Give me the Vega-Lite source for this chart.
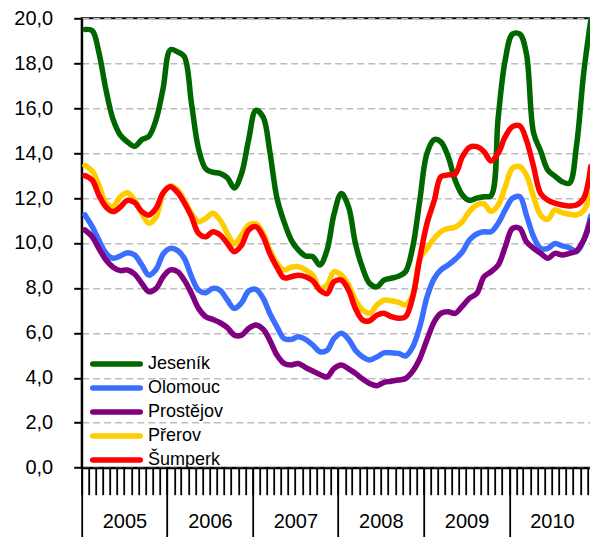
{
"$schema":"https://vega.github.io/schema/vega-lite/v6.json",
"autosize":{"type":"none"},
"padding":{"left":81.7,"top":18.3,"right":0,"bottom":70},
"width":513,"height":449.4,
"background":"#ffffff",
"title":{"text":["Míra nezaměstnanosti v okresech","Olomouckého kraje (v %)"],"font":"Liberation Sans","fontSize":19,"fontWeight":"bold","color":"#000","baseline":"bottom","offset":0,"dx":-32,"anchor":"middle"},
"config":{"view":{"stroke":"#000","strokeWidth":2},"font":"Liberation Sans"},
"datasets":{"nezam":[
{"mesic":"2005-01-15","okres":"Jeseník","mira":19.5},{"mesic":"2005-02-15","okres":"Jeseník","mira":19.45},{"mesic":"2005-03-15","okres":"Jeseník","mira":18.5},{"mesic":"2005-04-15","okres":"Jeseník","mira":16.8},{"mesic":"2005-05-15","okres":"Jeseník","mira":15.5},{"mesic":"2005-06-15","okres":"Jeseník","mira":14.8},{"mesic":"2005-07-15","okres":"Jeseník","mira":14.5},{"mesic":"2005-08-15","okres":"Jeseník","mira":14.3},{"mesic":"2005-09-15","okres":"Jeseník","mira":14.6},{"mesic":"2005-10-15","okres":"Jeseník","mira":14.75},{"mesic":"2005-11-15","okres":"Jeseník","mira":15.5},{"mesic":"2005-12-15","okres":"Jeseník","mira":16.9},
{"mesic":"2006-01-15","okres":"Jeseník","mira":18.6},{"mesic":"2006-02-15","okres":"Jeseník","mira":18.5},{"mesic":"2006-03-15","okres":"Jeseník","mira":18.3},{"mesic":"2006-04-15","okres":"Jeseník","mira":16.2},{"mesic":"2006-05-15","okres":"Jeseník","mira":14.2},{"mesic":"2006-06-15","okres":"Jeseník","mira":13.3},{"mesic":"2006-07-15","okres":"Jeseník","mira":13.15},{"mesic":"2006-08-15","okres":"Jeseník","mira":13.1},{"mesic":"2006-09-15","okres":"Jeseník","mira":12.9},{"mesic":"2006-10-15","okres":"Jeseník","mira":12.45},{"mesic":"2006-11-15","okres":"Jeseník","mira":13.1},{"mesic":"2006-12-15","okres":"Jeseník","mira":14.6},
{"mesic":"2007-01-15","okres":"Jeseník","mira":15.9},{"mesic":"2007-02-15","okres":"Jeseník","mira":15.6},{"mesic":"2007-03-15","okres":"Jeseník","mira":14.1},{"mesic":"2007-04-15","okres":"Jeseník","mira":12.0},{"mesic":"2007-05-15","okres":"Jeseník","mira":10.95},{"mesic":"2007-06-15","okres":"Jeseník","mira":10.13},{"mesic":"2007-07-15","okres":"Jeseník","mira":9.69},{"mesic":"2007-08-15","okres":"Jeseník","mira":9.42},{"mesic":"2007-09-15","okres":"Jeseník","mira":9.39},{"mesic":"2007-10-15","okres":"Jeseník","mira":9.02},{"mesic":"2007-11-15","okres":"Jeseník","mira":9.69},{"mesic":"2007-12-15","okres":"Jeseník","mira":11.3},
{"mesic":"2008-01-15","okres":"Jeseník","mira":12.2},{"mesic":"2008-02-15","okres":"Jeseník","mira":11.6},{"mesic":"2008-03-15","okres":"Jeseník","mira":9.98},{"mesic":"2008-04-15","okres":"Jeseník","mira":8.88},{"mesic":"2008-05-15","okres":"Jeseník","mira":8.2},{"mesic":"2008-06-15","okres":"Jeseník","mira":8.05},{"mesic":"2008-07-15","okres":"Jeseník","mira":8.35},{"mesic":"2008-08-15","okres":"Jeseník","mira":8.43},{"mesic":"2008-09-15","okres":"Jeseník","mira":8.52},{"mesic":"2008-10-15","okres":"Jeseník","mira":8.72},{"mesic":"2008-11-15","okres":"Jeseník","mira":9.83},{"mesic":"2008-12-15","okres":"Jeseník","mira":11.9},
{"mesic":"2009-01-15","okres":"Jeseník","mira":14.0},{"mesic":"2009-02-15","okres":"Jeseník","mira":14.6},{"mesic":"2009-03-15","okres":"Jeseník","mira":14.5},{"mesic":"2009-04-15","okres":"Jeseník","mira":13.85},{"mesic":"2009-05-15","okres":"Jeseník","mira":12.8},{"mesic":"2009-06-15","okres":"Jeseník","mira":12.14},{"mesic":"2009-07-15","okres":"Jeseník","mira":11.9},{"mesic":"2009-08-15","okres":"Jeseník","mira":12.0},{"mesic":"2009-09-15","okres":"Jeseník","mira":12.06},{"mesic":"2009-10-15","okres":"Jeseník","mira":12.1},{"mesic":"2009-11-15","okres":"Jeseník","mira":15.6},{"mesic":"2009-12-15","okres":"Jeseník","mira":18.15},
{"mesic":"2010-01-15","okres":"Jeseník","mira":19.3},{"mesic":"2010-02-15","okres":"Jeseník","mira":19.3},{"mesic":"2010-03-15","okres":"Jeseník","mira":18.45},{"mesic":"2010-04-15","okres":"Jeseník","mira":14.9},{"mesic":"2010-05-15","okres":"Jeseník","mira":14.1},{"mesic":"2010-06-15","okres":"Jeseník","mira":13.24},{"mesic":"2010-07-15","okres":"Jeseník","mira":12.98},{"mesic":"2010-08-15","okres":"Jeseník","mira":12.73},{"mesic":"2010-09-15","okres":"Jeseník","mira":12.66},{"mesic":"2010-10-15","okres":"Jeseník","mira":14.3},{"mesic":"2010-11-15","okres":"Jeseník","mira":17.56},{"mesic":"2010-12-15","okres":"Jeseník","mira":19.9},

{"mesic":"2005-01-15","okres":"Olomouc","mira":11.25},{"mesic":"2005-02-15","okres":"Olomouc","mira":10.73},{"mesic":"2005-03-15","okres":"Olomouc","mira":10.13},{"mesic":"2005-04-15","okres":"Olomouc","mira":9.54},{"mesic":"2005-05-15","okres":"Olomouc","mira":9.32},{"mesic":"2005-06-15","okres":"Olomouc","mira":9.42},{"mesic":"2005-07-15","okres":"Olomouc","mira":9.57},{"mesic":"2005-08-15","okres":"Olomouc","mira":9.47},{"mesic":"2005-09-15","okres":"Olomouc","mira":9.02},{"mesic":"2005-10-15","okres":"Olomouc","mira":8.57},{"mesic":"2005-11-15","okres":"Olomouc","mira":8.83},{"mesic":"2005-12-15","okres":"Olomouc","mira":9.51},
{"mesic":"2006-01-15","okres":"Olomouc","mira":9.76},{"mesic":"2006-02-15","okres":"Olomouc","mira":9.66},{"mesic":"2006-03-15","okres":"Olomouc","mira":9.32},{"mesic":"2006-04-15","okres":"Olomouc","mira":8.5},{"mesic":"2006-05-15","okres":"Olomouc","mira":7.9},{"mesic":"2006-06-15","okres":"Olomouc","mira":7.79},{"mesic":"2006-07-15","okres":"Olomouc","mira":7.98},{"mesic":"2006-08-15","okres":"Olomouc","mira":7.9},{"mesic":"2006-09-15","okres":"Olomouc","mira":7.46},{"mesic":"2006-10-15","okres":"Olomouc","mira":7.09},{"mesic":"2006-11-15","okres":"Olomouc","mira":7.34},{"mesic":"2006-12-15","okres":"Olomouc","mira":7.86},
{"mesic":"2007-01-15","okres":"Olomouc","mira":7.94},{"mesic":"2007-02-15","okres":"Olomouc","mira":7.54},{"mesic":"2007-03-15","okres":"Olomouc","mira":6.87},{"mesic":"2007-04-15","okres":"Olomouc","mira":6.27},{"mesic":"2007-05-15","okres":"Olomouc","mira":5.75},{"mesic":"2007-06-15","okres":"Olomouc","mira":5.71},{"mesic":"2007-07-15","okres":"Olomouc","mira":5.83},{"mesic":"2007-08-15","okres":"Olomouc","mira":5.71},{"mesic":"2007-09-15","okres":"Olomouc","mira":5.46},{"mesic":"2007-10-15","okres":"Olomouc","mira":5.16},{"mesic":"2007-11-15","okres":"Olomouc","mira":5.23},{"mesic":"2007-12-15","okres":"Olomouc","mira":5.75},
{"mesic":"2008-01-15","okres":"Olomouc","mira":5.98},{"mesic":"2008-02-15","okres":"Olomouc","mira":5.71},{"mesic":"2008-03-15","okres":"Olomouc","mira":5.23},{"mesic":"2008-04-15","okres":"Olomouc","mira":4.93},{"mesic":"2008-05-15","okres":"Olomouc","mira":4.79},{"mesic":"2008-06-15","okres":"Olomouc","mira":4.93},{"mesic":"2008-07-15","okres":"Olomouc","mira":5.11},{"mesic":"2008-08-15","okres":"Olomouc","mira":5.11},{"mesic":"2008-09-15","okres":"Olomouc","mira":5.09},{"mesic":"2008-10-15","okres":"Olomouc","mira":4.97},{"mesic":"2008-11-15","okres":"Olomouc","mira":5.38},{"mesic":"2008-12-15","okres":"Olomouc","mira":6.27},
{"mesic":"2009-01-15","okres":"Olomouc","mira":7.6},{"mesic":"2009-02-15","okres":"Olomouc","mira":8.43},{"mesic":"2009-03-15","okres":"Olomouc","mira":8.8},{"mesic":"2009-04-15","okres":"Olomouc","mira":9.02},{"mesic":"2009-05-15","okres":"Olomouc","mira":9.27},{"mesic":"2009-06-15","okres":"Olomouc","mira":9.61},{"mesic":"2009-07-15","okres":"Olomouc","mira":10.13},{"mesic":"2009-08-15","okres":"Olomouc","mira":10.4},{"mesic":"2009-09-15","okres":"Olomouc","mira":10.5},{"mesic":"2009-10-15","okres":"Olomouc","mira":10.5},{"mesic":"2009-11-15","okres":"Olomouc","mira":10.88},{"mesic":"2009-12-15","okres":"Olomouc","mira":11.47},
{"mesic":"2010-01-15","okres":"Olomouc","mira":11.99},{"mesic":"2010-02-15","okres":"Olomouc","mira":12.06},{"mesic":"2010-03-15","okres":"Olomouc","mira":11.25},{"mesic":"2010-04-15","okres":"Olomouc","mira":10.28},{"mesic":"2010-05-15","okres":"Olomouc","mira":9.76},{"mesic":"2010-06-15","okres":"Olomouc","mira":9.76},{"mesic":"2010-07-15","okres":"Olomouc","mira":9.98},{"mesic":"2010-08-15","okres":"Olomouc","mira":9.87},{"mesic":"2010-09-15","okres":"Olomouc","mira":9.79},{"mesic":"2010-10-15","okres":"Olomouc","mira":9.61},{"mesic":"2010-11-15","okres":"Olomouc","mira":10.13},{"mesic":"2010-12-15","okres":"Olomouc","mira":11.2},

{"mesic":"2005-01-15","okres":"Prostějov","mira":10.58},{"mesic":"2005-02-15","okres":"Prostějov","mira":10.28},{"mesic":"2005-03-15","okres":"Prostějov","mira":9.76},{"mesic":"2005-04-15","okres":"Prostějov","mira":9.24},{"mesic":"2005-05-15","okres":"Prostějov","mira":8.92},{"mesic":"2005-06-15","okres":"Prostějov","mira":8.77},{"mesic":"2005-07-15","okres":"Prostějov","mira":8.8},{"mesic":"2005-08-15","okres":"Prostějov","mira":8.62},{"mesic":"2005-09-15","okres":"Prostějov","mira":8.2},{"mesic":"2005-10-15","okres":"Prostějov","mira":7.83},{"mesic":"2005-11-15","okres":"Prostějov","mira":7.98},{"mesic":"2005-12-15","okres":"Prostějov","mira":8.5},
{"mesic":"2006-01-15","okres":"Prostějov","mira":8.8},{"mesic":"2006-02-15","okres":"Prostějov","mira":8.72},{"mesic":"2006-03-15","okres":"Prostějov","mira":8.35},{"mesic":"2006-04-15","okres":"Prostějov","mira":7.75},{"mesic":"2006-05-15","okres":"Prostějov","mira":7.09},{"mesic":"2006-06-15","okres":"Prostějov","mira":6.72},{"mesic":"2006-07-15","okres":"Prostějov","mira":6.6},{"mesic":"2006-08-15","okres":"Prostějov","mira":6.45},{"mesic":"2006-09-15","okres":"Prostějov","mira":6.23},{"mesic":"2006-10-15","okres":"Prostějov","mira":5.9},{"mesic":"2006-11-15","okres":"Prostějov","mira":5.9},{"mesic":"2006-12-15","okres":"Prostějov","mira":6.2},
{"mesic":"2007-01-15","okres":"Prostějov","mira":6.35},{"mesic":"2007-02-15","okres":"Prostějov","mira":6.16},{"mesic":"2007-03-15","okres":"Prostějov","mira":5.68},{"mesic":"2007-04-15","okres":"Prostějov","mira":5.01},{"mesic":"2007-05-15","okres":"Prostějov","mira":4.64},{"mesic":"2007-06-15","okres":"Prostějov","mira":4.57},{"mesic":"2007-07-15","okres":"Prostějov","mira":4.64},{"mesic":"2007-08-15","okres":"Prostějov","mira":4.46},{"mesic":"2007-09-15","okres":"Prostějov","mira":4.3},{"mesic":"2007-10-15","okres":"Prostějov","mira":4.15},{"mesic":"2007-11-15","okres":"Prostějov","mira":4.04},{"mesic":"2007-12-15","okres":"Prostějov","mira":4.42},
{"mesic":"2008-01-15","okres":"Prostějov","mira":4.57},{"mesic":"2008-02-15","okres":"Prostějov","mira":4.4},{"mesic":"2008-03-15","okres":"Prostějov","mira":4.2},{"mesic":"2008-04-15","okres":"Prostějov","mira":3.95},{"mesic":"2008-05-15","okres":"Prostějov","mira":3.75},{"mesic":"2008-06-15","okres":"Prostějov","mira":3.65},{"mesic":"2008-07-15","okres":"Prostějov","mira":3.8},{"mesic":"2008-08-15","okres":"Prostějov","mira":3.85},{"mesic":"2008-09-15","okres":"Prostějov","mira":3.9},{"mesic":"2008-10-15","okres":"Prostějov","mira":3.97},{"mesic":"2008-11-15","okres":"Prostějov","mira":4.3},{"mesic":"2008-12-15","okres":"Prostějov","mira":4.85},
{"mesic":"2009-01-15","okres":"Prostějov","mira":5.7},{"mesic":"2009-02-15","okres":"Prostějov","mira":6.5},{"mesic":"2009-03-15","okres":"Prostějov","mira":6.87},{"mesic":"2009-04-15","okres":"Prostějov","mira":6.94},{"mesic":"2009-05-15","okres":"Prostějov","mira":6.87},{"mesic":"2009-06-15","okres":"Prostějov","mira":7.19},{"mesic":"2009-07-15","okres":"Prostějov","mira":7.54},{"mesic":"2009-08-15","okres":"Prostějov","mira":7.75},{"mesic":"2009-09-15","okres":"Prostějov","mira":8.5},{"mesic":"2009-10-15","okres":"Prostějov","mira":8.72},{"mesic":"2009-11-15","okres":"Prostějov","mira":9.02},{"mesic":"2009-12-15","okres":"Prostějov","mira":9.83},
{"mesic":"2010-01-15","okres":"Prostějov","mira":10.65},{"mesic":"2010-02-15","okres":"Prostějov","mira":10.65},{"mesic":"2010-03-15","okres":"Prostějov","mira":10.06},{"mesic":"2010-04-15","okres":"Prostějov","mira":9.76},{"mesic":"2010-05-15","okres":"Prostějov","mira":9.54},{"mesic":"2010-06-15","okres":"Prostějov","mira":9.32},{"mesic":"2010-07-15","okres":"Prostějov","mira":9.54},{"mesic":"2010-08-15","okres":"Prostějov","mira":9.47},{"mesic":"2010-09-15","okres":"Prostějov","mira":9.54},{"mesic":"2010-10-15","okres":"Prostějov","mira":9.64},{"mesic":"2010-11-15","okres":"Prostějov","mira":10.13},{"mesic":"2010-12-15","okres":"Prostějov","mira":11.0},

{"mesic":"2005-01-15","okres":"Přerov","mira":13.45},{"mesic":"2005-02-15","okres":"Přerov","mira":13.2},{"mesic":"2005-03-15","okres":"Přerov","mira":12.58},{"mesic":"2005-04-15","okres":"Přerov","mira":11.77},{"mesic":"2005-05-15","okres":"Přerov","mira":11.62},{"mesic":"2005-06-15","okres":"Přerov","mira":12.06},{"mesic":"2005-07-15","okres":"Přerov","mira":12.24},{"mesic":"2005-08-15","okres":"Přerov","mira":11.9},{"mesic":"2005-09-15","okres":"Přerov","mira":11.32},{"mesic":"2005-10-15","okres":"Přerov","mira":10.88},{"mesic":"2005-11-15","okres":"Přerov","mira":11.17},{"mesic":"2005-12-15","okres":"Přerov","mira":12.21},
{"mesic":"2006-01-15","okres":"Přerov","mira":12.54},{"mesic":"2006-02-15","okres":"Přerov","mira":12.36},{"mesic":"2006-03-15","okres":"Přerov","mira":11.9},{"mesic":"2006-04-15","okres":"Přerov","mira":11.32},{"mesic":"2006-05-15","okres":"Přerov","mira":10.95},{"mesic":"2006-06-15","okres":"Přerov","mira":11.1},{"mesic":"2006-07-15","okres":"Přerov","mira":11.32},{"mesic":"2006-08-15","okres":"Přerov","mira":11.02},{"mesic":"2006-09-15","okres":"Přerov","mira":10.43},{"mesic":"2006-10-15","okres":"Přerov","mira":9.95},{"mesic":"2006-11-15","okres":"Přerov","mira":10.36},{"mesic":"2006-12-15","okres":"Přerov","mira":10.8},
{"mesic":"2007-01-15","okres":"Přerov","mira":10.85},{"mesic":"2007-02-15","okres":"Přerov","mira":10.43},{"mesic":"2007-03-15","okres":"Přerov","mira":9.69},{"mesic":"2007-04-15","okres":"Přerov","mira":9.1},{"mesic":"2007-05-15","okres":"Přerov","mira":8.8},{"mesic":"2007-06-15","okres":"Přerov","mira":8.92},{"mesic":"2007-07-15","okres":"Přerov","mira":8.95},{"mesic":"2007-08-15","okres":"Přerov","mira":8.8},{"mesic":"2007-09-15","okres":"Přerov","mira":8.57},{"mesic":"2007-10-15","okres":"Přerov","mira":7.98},{"mesic":"2007-11-15","okres":"Přerov","mira":8.13},{"mesic":"2007-12-15","okres":"Přerov","mira":8.72},
{"mesic":"2008-01-15","okres":"Přerov","mira":8.57},{"mesic":"2008-02-15","okres":"Přerov","mira":8.13},{"mesic":"2008-03-15","okres":"Přerov","mira":7.46},{"mesic":"2008-04-15","okres":"Přerov","mira":7.02},{"mesic":"2008-05-15","okres":"Přerov","mira":6.87},{"mesic":"2008-06-15","okres":"Přerov","mira":7.24},{"mesic":"2008-07-15","okres":"Přerov","mira":7.46},{"mesic":"2008-08-15","okres":"Přerov","mira":7.43},{"mesic":"2008-09-15","okres":"Přerov","mira":7.36},{"mesic":"2008-10-15","okres":"Přerov","mira":7.24},{"mesic":"2008-11-15","okres":"Přerov","mira":7.7},{"mesic":"2008-12-15","okres":"Přerov","mira":9.3},
{"mesic":"2009-01-15","okres":"Přerov","mira":9.76},{"mesic":"2009-02-15","okres":"Přerov","mira":10.21},{"mesic":"2009-03-15","okres":"Přerov","mira":10.5},{"mesic":"2009-04-15","okres":"Přerov","mira":10.65},{"mesic":"2009-05-15","okres":"Přerov","mira":10.7},{"mesic":"2009-06-15","okres":"Přerov","mira":10.95},{"mesic":"2009-07-15","okres":"Přerov","mira":11.4},{"mesic":"2009-08-15","okres":"Přerov","mira":11.69},{"mesic":"2009-09-15","okres":"Přerov","mira":11.74},{"mesic":"2009-10-15","okres":"Přerov","mira":11.4},{"mesic":"2009-11-15","okres":"Přerov","mira":11.69},{"mesic":"2009-12-15","okres":"Přerov","mira":12.5},
{"mesic":"2010-01-15","okres":"Přerov","mira":13.33},{"mesic":"2010-02-15","okres":"Přerov","mira":13.4},{"mesic":"2010-03-15","okres":"Přerov","mira":13.03},{"mesic":"2010-04-15","okres":"Přerov","mira":12.06},{"mesic":"2010-05-15","okres":"Přerov","mira":11.25},{"mesic":"2010-06-15","okres":"Přerov","mira":11.05},{"mesic":"2010-07-15","okres":"Přerov","mira":11.47},{"mesic":"2010-08-15","okres":"Přerov","mira":11.35},{"mesic":"2010-09-15","okres":"Přerov","mira":11.28},{"mesic":"2010-10-15","okres":"Přerov","mira":11.25},{"mesic":"2010-11-15","okres":"Přerov","mira":11.44},{"mesic":"2010-12-15","okres":"Přerov","mira":12.2},

{"mesic":"2005-01-15","okres":"Šumperk","mira":13.0},{"mesic":"2005-02-15","okres":"Šumperk","mira":12.8},{"mesic":"2005-03-15","okres":"Šumperk","mira":12.14},{"mesic":"2005-04-15","okres":"Šumperk","mira":11.6},{"mesic":"2005-05-15","okres":"Šumperk","mira":11.4},{"mesic":"2005-06-15","okres":"Šumperk","mira":11.6},{"mesic":"2005-07-15","okres":"Šumperk","mira":11.9},{"mesic":"2005-08-15","okres":"Šumperk","mira":11.8},{"mesic":"2005-09-15","okres":"Šumperk","mira":11.4},{"mesic":"2005-10-15","okres":"Šumperk","mira":11.25},{"mesic":"2005-11-15","okres":"Šumperk","mira":11.55},{"mesic":"2005-12-15","okres":"Šumperk","mira":12.24},
{"mesic":"2006-01-15","okres":"Šumperk","mira":12.5},{"mesic":"2006-02-15","okres":"Šumperk","mira":12.24},{"mesic":"2006-03-15","okres":"Šumperk","mira":11.8},{"mesic":"2006-04-15","okres":"Šumperk","mira":11.17},{"mesic":"2006-05-15","okres":"Šumperk","mira":10.43},{"mesic":"2006-06-15","okres":"Šumperk","mira":10.28},{"mesic":"2006-07-15","okres":"Šumperk","mira":10.5},{"mesic":"2006-08-15","okres":"Šumperk","mira":10.36},{"mesic":"2006-09-15","okres":"Šumperk","mira":9.98},{"mesic":"2006-10-15","okres":"Šumperk","mira":9.61},{"mesic":"2006-11-15","okres":"Šumperk","mira":9.9},{"mesic":"2006-12-15","okres":"Šumperk","mira":10.58},
{"mesic":"2007-01-15","okres":"Šumperk","mira":10.73},{"mesic":"2007-02-15","okres":"Šumperk","mira":10.28},{"mesic":"2007-03-15","okres":"Šumperk","mira":9.54},{"mesic":"2007-04-15","okres":"Šumperk","mira":8.92},{"mesic":"2007-05-15","okres":"Šumperk","mira":8.45},{"mesic":"2007-06-15","okres":"Šumperk","mira":8.5},{"mesic":"2007-07-15","okres":"Šumperk","mira":8.57},{"mesic":"2007-08-15","okres":"Šumperk","mira":8.5},{"mesic":"2007-09-15","okres":"Šumperk","mira":8.32},{"mesic":"2007-10-15","okres":"Šumperk","mira":7.9},{"mesic":"2007-11-15","okres":"Šumperk","mira":7.75},{"mesic":"2007-12-15","okres":"Šumperk","mira":8.28},
{"mesic":"2008-01-15","okres":"Šumperk","mira":8.35},{"mesic":"2008-02-15","okres":"Šumperk","mira":7.9},{"mesic":"2008-03-15","okres":"Šumperk","mira":7.09},{"mesic":"2008-04-15","okres":"Šumperk","mira":6.57},{"mesic":"2008-05-15","okres":"Šumperk","mira":6.54},{"mesic":"2008-06-15","okres":"Šumperk","mira":6.79},{"mesic":"2008-07-15","okres":"Šumperk","mira":6.87},{"mesic":"2008-08-15","okres":"Šumperk","mira":6.72},{"mesic":"2008-09-15","okres":"Šumperk","mira":6.65},{"mesic":"2008-10-15","okres":"Šumperk","mira":6.72},{"mesic":"2008-11-15","okres":"Šumperk","mira":7.6},{"mesic":"2008-12-15","okres":"Šumperk","mira":9.32},
{"mesic":"2009-01-15","okres":"Šumperk","mira":10.88},{"mesic":"2009-02-15","okres":"Šumperk","mira":11.9},{"mesic":"2009-03-15","okres":"Šumperk","mira":12.95},{"mesic":"2009-04-15","okres":"Šumperk","mira":13.03},{"mesic":"2009-05-15","okres":"Šumperk","mira":13.07},{"mesic":"2009-06-15","okres":"Šumperk","mira":13.84},{"mesic":"2009-07-15","okres":"Šumperk","mira":14.26},{"mesic":"2009-08-15","okres":"Šumperk","mira":14.29},{"mesic":"2009-09-15","okres":"Šumperk","mira":14.07},{"mesic":"2009-10-15","okres":"Šumperk","mira":13.65},{"mesic":"2009-11-15","okres":"Šumperk","mira":14.0},{"mesic":"2009-12-15","okres":"Šumperk","mira":14.73},
{"mesic":"2010-01-15","okres":"Šumperk","mira":15.18},{"mesic":"2010-02-15","okres":"Šumperk","mira":15.21},{"mesic":"2010-03-15","okres":"Šumperk","mira":14.59},{"mesic":"2010-04-15","okres":"Šumperk","mira":13.4},{"mesic":"2010-05-15","okres":"Šumperk","mira":12.21},{"mesic":"2010-06-15","okres":"Šumperk","mira":11.9},{"mesic":"2010-07-15","okres":"Šumperk","mira":11.77},{"mesic":"2010-08-15","okres":"Šumperk","mira":11.69},{"mesic":"2010-09-15","okres":"Šumperk","mira":11.65},{"mesic":"2010-10-15","okres":"Šumperk","mira":11.69},{"mesic":"2010-11-15","okres":"Šumperk","mira":11.99},{"mesic":"2010-12-15","okres":"Šumperk","mira":13.4}
]},
"data":{"name":"nezam"},
"resolve":{"axis":{"x":"independent"}},
"layer":[
{
"mark":{"type":"line","interpolate":"catmull-rom","strokeWidth":5.5,"strokeCap":"round","strokeJoin":"round"},
"encoding":{
"x":{"field":"mesic","type":"temporal","title":null,
"scale":{"type":"utc","domain":[{"year":2005,"month":1,"date":1,"utc":true},{"year":2011,"month":1,"date":1,"utc":true}]},
"axis":{"orient":"bottom","tickCount":{"interval":"month","step":1},"grid":false,"domain":true,"domainColor":"#000","domainWidth":2,"ticks":true,"tickColor":"#000","tickWidth":1.8,"tickSize":27,"labels":false}},
"y":{"field":"mira","type":"quantitative","title":null,
"scale":{"domain":[0,20],"nice":false,"zero":true},
"axis":{"values":[0,2,4,6,8,10,12,14,16,18,20],"labelExpr":"replace(format(datum.value,'.1f'),'.',',')","labelFont":"Liberation Sans","labelFontSize":20,"labelColor":"#000","labelPadding":21,"tickSize":8,"tickColor":"#000","tickWidth":2,"domainColor":"#000","domainWidth":2,"grid":true,"gridColor":"#bdbdbd","gridDash":[7,4],"gridWidth":1.5}},
"color":{"field":"okres","type":"nominal",
"scale":{"domain":["Jeseník","Olomouc","Prostějov","Přerov","Šumperk"],"range":["#006600","#3a6eff","#800080","#ffcc00","#ff0000"]},
"legend":{"title":null,"orient":"none","legendX":8.3,"legendY":335,"symbolType":"stroke","symbolSize":2256,"symbolStrokeWidth":5.5,"labelFont":"Liberation Sans","labelFontSize":18,"labelColor":"#000","labelOffset":5,"clipHeight":21.2,"rowPadding":2,"padding":0,
"encode":{"symbols":{"update":{"strokeCap":{"value":"round"}}}}}}
}
},
{
"mark":{"type":"line","opacity":0},
"encoding":{
"x":{"field":"mesic","type":"temporal","title":null,
"axis":{"orient":"bottom","tickCount":{"interval":"year","step":1},"grid":false,"domain":false,"ticks":true,"tickColor":"#000","tickWidth":1.8,"tickSize":80,
"labelExpr":"utcyear(datum.value) < 2011 ? utcFormat(datum.value, '%Y') : ''",
"labelOffset":42.75,"labelPadding":-36,"labelFont":"Liberation Sans","labelFontSize":20,"labelColor":"#000","labelOverlap":false,"labelBound":false,"labelFlush":false}},
"y":{"field":"mira","type":"quantitative"}
}
}
]
}
